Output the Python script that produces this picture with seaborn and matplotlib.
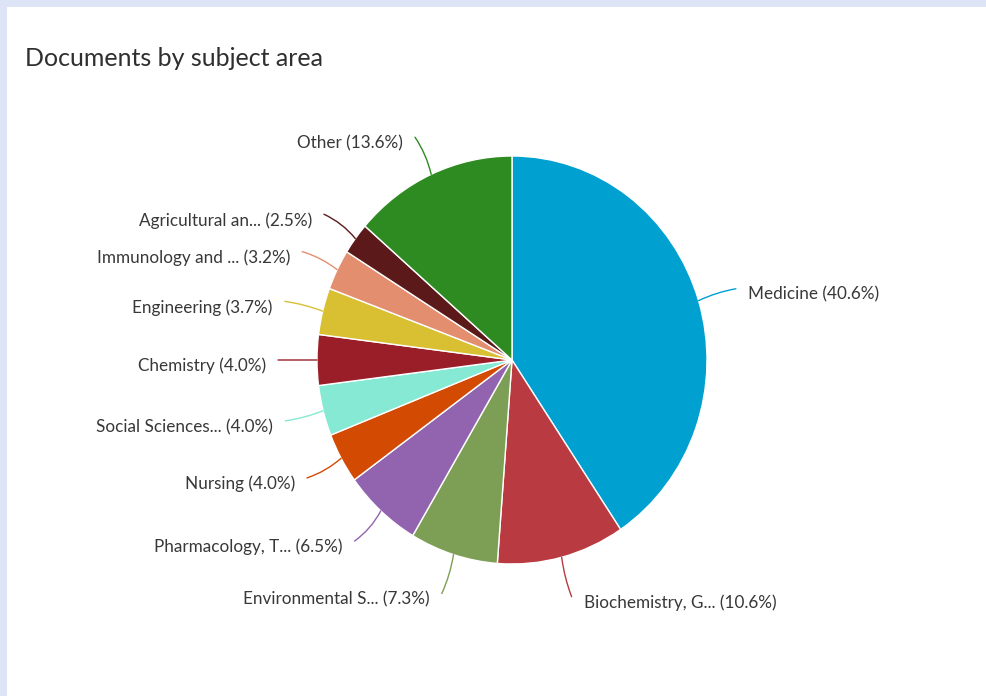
import matplotlib
matplotlib.use("Agg")
import matplotlib.pyplot as plt
import seaborn as sns
import numpy as np
from matplotlib.patches import Rectangle, FancyArrowPatch
from matplotlib.transforms import ScaledTranslation

# ---- data ----
subjects = ["Medicine", "Biochemistry, G...", "Environmental S...", "Pharmacology, T...",
            "Nursing", "Social Sciences...", "Chemistry", "Engineering",
            "Immunology and ...", "Agricultural an...", "Other"]
shares = [40.6, 10.6, 7.3, 6.5, 4.0, 4.0, 4.0, 3.7, 3.2, 2.5, 13.6]
colors = ["#00a0d1", "#b93a41", "#7d9e55", "#9264b0", "#d34a03", "#86e9d3",
          "#9a1e28", "#d9c032", "#e48e70", "#5b191a", "#2e8b22"]
title = "Documents by subject area"

sns.set_theme(style="white")
plt.rcParams['font.family'] = ['Lato', 'DejaVu Sans']

W, H = 987, 696
fig = plt.figure(figsize=(W / 100, H / 100), dpi=100)
fig.patch.set_facecolor("#dce4f5")
fig.add_artist(Rectangle((7 / W, 0), 1, (H - 7) / H, transform=fig.transFigure,
                         facecolor="white", edgecolor="none", zorder=0))

fig.text(25 / W, 1 - 58 / H, title, fontsize=18, color="#2f2f2f",
         ha="left", va="center")

# pie axes: centre (512, 360) px from top-left, radii rx, ry
cx, cy, rx, ry, lim = 512, 360, 195, 204, 1.25
ax = fig.add_axes([(cx - lim * rx) / W, (H - cy - lim * ry) / H,
                   2 * lim * rx / W, 2 * lim * ry / H])
wedges, _ = ax.pie(shares, colors=colors, startangle=90, counterclock=False,
                   wedgeprops=dict(edgecolor="white", linewidth=1))
ax.set_aspect("auto")
ax.set_xlim(-lim, lim)
ax.set_ylim(-lim, lim)
ax.axis("off")

for w, lab, val, c in zip(wedges, subjects, shares, colors):
    th = np.deg2rad((w.theta1 + w.theta2) / 2)
    x0, y0 = np.cos(th), np.sin(th)
    x1, y1 = 1.2 * np.cos(th), 1.2 * np.sin(th)
    rad = -0.12 * np.sin(2 * th)
    con = FancyArrowPatch((x0, y0), (x1, y1), arrowstyle="-",
                          connectionstyle=f"arc3,rad={rad:.3f}",
                          color=c, lw=1, shrinkA=0, shrinkB=0)
    ax.add_patch(con)
    right = x1 >= 0
    off = ScaledTranslation((12 if right else -12) / 100, -6 / 100, fig.dpi_scale_trans)
    ax.text(x1, y1, f"{lab} ({val:.1f}%)", transform=ax.transData + off,
            ha="left" if right else "right", va="center",
            fontsize=12.3, color="#383838")

fig.savefig("out.png", dpi=100, facecolor=fig.get_facecolor())
